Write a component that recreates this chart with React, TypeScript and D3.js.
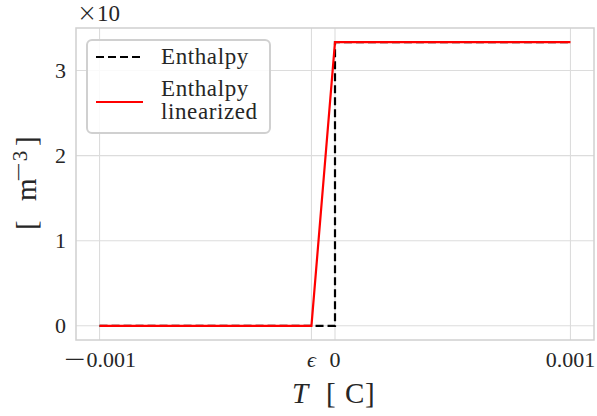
import React from "react";
import * as d3 from "d3";

const enthalpyX = [-0.001, 0, 0, 0.001];
const enthalpyY = [0, 0, 3.333, 3.333];
const linearX = [-0.001, -0.0001, 0, 0.001];
const linearY = [0, 0, 3.333, 3.333];
const xTicks = [-0.001, -0.0001, 0, 0.001];
const xTickLabels = ["\u22120.001", "\u03f5", "0", "0.001"];
const yTicks = [0, 1, 2, 3];

const W = 597, H = 416;
const M = { left: 76, right: 594, top: 28, bottom: 340 };
const FONT = "'Liberation Serif', 'DejaVu Serif', serif";
const SYM = "'DejaVu Sans', sans-serif";

export default function App() {
  const x = d3.scaleLinear().domain([-0.0011, 0.0011]).range([M.left, M.right]);
  const y = d3.scaleLinear().domain([-0.16665, 3.49965]).range([M.bottom, M.top]);
  const line = d3.line<[number, number]>().x(d => x(d[0])).y(d => y(d[1]));
  const ent = line(enthalpyX.map((v, i) => [v, enthalpyY[i]]) as [number, number][]) || "";
  const lin = line(linearX.map((v, i) => [v, linearY[i]]) as [number, number][]) || "";
  const grid = "#dcdcdc";
  const tc = "#262626";
  const renderTick = (s: string) =>
    s.startsWith("\u2212") ? (
      <>
        <tspan fontFamily={SYM} fontWeight={200} fontSize={28} dy={1}>{"\u2212"}</tspan>
        <tspan dy={-1}>{s.slice(1)}</tspan>
      </>
    ) : s;
  return (
    <svg width={W} height={H} style={{ position: "absolute", left: 0, top: 0, background: "#fff" }} fontFamily={FONT}>
      <defs>
        <clipPath id="c"><rect x={M.left} y={M.top} width={M.right - M.left} height={M.bottom - M.top} /></clipPath>
      </defs>
      {xTicks.map((t, i) => (
        <line key={"gx" + i} x1={x(t)} x2={x(t)} y1={M.top} y2={M.bottom} stroke={grid} strokeWidth={1.1} />
      ))}
      {yTicks.map((t, i) => (
        <line key={"gy" + i} x1={M.left} x2={M.right} y1={y(t)} y2={y(t)} stroke={grid} strokeWidth={1.1} />
      ))}
      <g clipPath="url(#c)">
        <path d={ent} fill="none" stroke="#000" strokeWidth={2.2} strokeDasharray="8,4" />
        <path d={lin} fill="none" stroke="#ff0000" strokeWidth={2.2} />
      </g>
      <rect x={M.left} y={M.top} width={M.right - M.left} height={M.bottom - M.top} fill="none" stroke="#d0d0d0" strokeWidth={1.5} />
      {xTicks.map((t, i) => (
        <text key={"tx" + i} x={x(t)} y={367} textAnchor="middle" fontSize={22} fill={tc}
          fontStyle={i === 1 ? "italic" : "normal"}>{renderTick(xTickLabels[i])}</text>
      ))}
      {yTicks.map((t, i) => (
        <text key={"ty" + i} x={66} y={y(t) + 7.5} textAnchor="end" fontSize={22} fill={tc}>{t}</text>
      ))}
      <text x={77} y={21} fontSize={23} fill={tc}><tspan fontFamily={SYM} fontWeight={200} fontSize={24}>×</tspan>10</text>
      <g fill={tc} fontSize={29}>
        <text x={292} y={403} fontStyle="italic">T</text>
        <text x={326} y={403}>[</text>
        <text x={345} y={403}>C</text>
        <text x={365} y={403}>]</text>
      </g>
      <g fill={tc} fontSize={29}>
        <text transform="translate(36,230) rotate(-90)">[</text>
        <text transform="translate(36,201) rotate(-90)">m</text>
        <text transform="translate(27,183) rotate(-90)">
          <tspan fontFamily={SYM} fontWeight={200} fontSize={26}>{"\u2212"}</tspan>
          <tspan fontSize={21}>3</tspan>
        </text>
        <text transform="translate(36,146) rotate(-90)">]</text>
      </g>
      <g>
        <rect x={87} y={40} width={183} height={93} rx={5} fill="#fff" fillOpacity={0.85} stroke="#d0d0d0" strokeWidth={2} />
        <line x1={96} x2={143} y1={57} y2={57} stroke="#000" strokeWidth={2.2} strokeDasharray="8,4" />
        <text x={161} y={64} fontSize={23} fill={tc} letterSpacing={0.6}>Enthalpy</text>
        <line x1={96} x2={143} y1={102} y2={102} stroke="#ff0000" strokeWidth={2.2} />
        <text x={161} y={96} fontSize={23} fill={tc} letterSpacing={0.6}>Enthalpy</text>
        <text x={161} y={119} fontSize={23} fill={tc} letterSpacing={0.6}>linearized</text>
      </g>
    </svg>
  );
}
